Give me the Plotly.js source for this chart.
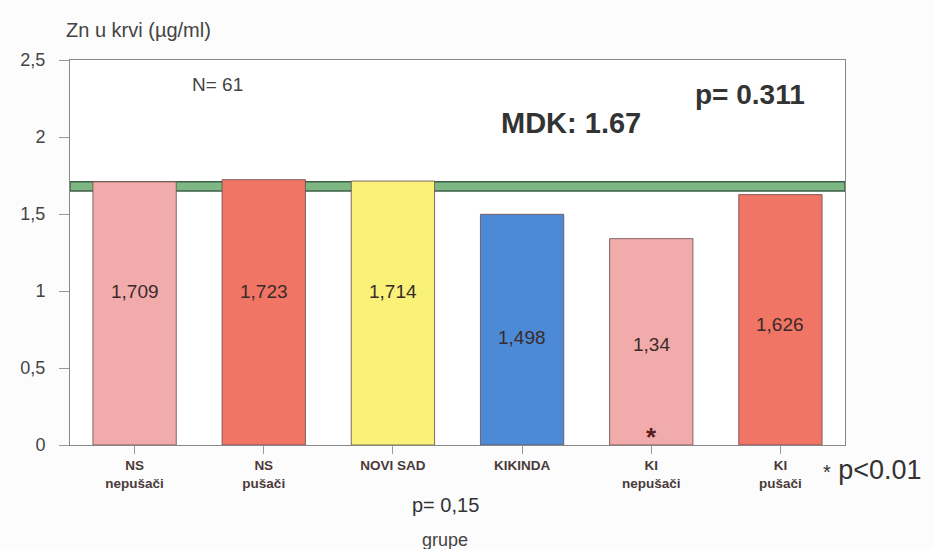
<!DOCTYPE html>
<html>
<head>
<meta charset="utf-8">
<script src="https://cdn.plot.ly/plotly-3.0.1.min.js"></script>
<style>html,body{margin:0;padding:0;background:#fdfcfc;}</style>
</head>
<body>
<div id="chart" style="width:933px;height:549px;"></div>
<script>
const categories = ["NS nepušači", "NS pušači", "NOVI SAD", "KIKINDA", "KI nepušači", "KI pušači"];
const tickLabels = ["<b>NS</b><br><b>nepušači</b>", "<b>NS</b><br><b>pušači</b>", "<b>NOVI SAD</b>", "<b>KIKINDA</b>", "<b>KI</b><br><b>nepušači</b>", "<b>KI</b><br><b>pušači</b>"];
const values = [1.709, 1.723, 1.714, 1.498, 1.34, 1.626];
const valueLabels = ["1,709", "1,723", "1,714", "1,498", "1,34", "1,626"];
const labelY = [1.0, 1.0, 1.0, 0.70, 0.65, 0.78];
const barColors = ["#f2abab", "#f07565", "#f9f178", "#4d8ad6", "#f2abab", "#f07565"];
const yTickVals = [0, 0.5, 1, 1.5, 2, 2.5];
const yTickText = ["0", "0,5", "1", "1,5", "2", "2,5"];
const mdkBand = [1.65, 1.71];
const starCategory = "KI nepušači";
const starY = 0.05;

const FONT = "Liberation Sans, Arial";
const L = 70, R = 88, T = 60, B = 104, W = 933, H = 549;
const pw = W - L - R, ph = H - T - B;
const px = x => (x - L) / pw;
const py = y => (H - B - y) / ph;

const trace = {
  type: "bar",
  x: categories,
  y: values,
  marker: {color: barColors, line: {color: "rgba(110,80,80,0.85)", width: 1}},
  width: 0.645,
  hoverinfo: "none"
};

const annotations = categories.map((c, i) => ({
  x: c, y: labelY[i], xref: "x", yref: "y", text: valueLabels[i], showarrow: false,
  xanchor: "center", yanchor: "middle",
  font: {family: FONT, size: 19, color: "#3a2a2a"}
}));
function note(x, y, text, size, color, xanchor) {
  annotations.push({x: px(x), y: py(y), xref: "paper", yref: "paper", text: text, showarrow: false,
    xanchor: xanchor || "center", yanchor: "middle", font: {family: FONT, size: size, color: color}});
}
annotations.push({x: starCategory, y: starY, xref: "x", yref: "y", text: "<b>*</b>", showarrow: false,
  xanchor: "center", yanchor: "middle", font: {family: FONT, size: 26, color: "#5a1e1e"}});
note(64, 30, "Zn u krvi (µg/ml)", 20, "#444", "left");
note(217, 84, "N= 61", 19, "#444");
note(571, 123, "<b>MDK: 1.67</b>", 29, "#333");
note(750, 94, "<b>p= 0.311</b>", 28, "#333");
note(821, 470, "<span style='font-size:20px'>*</span> p<0.01", 27, "#333", "left");
note(445, 505, "p= 0,15", 20, "#333");
note(445, 540, "grupe", 18, "#444");

const layout = {
  width: W, height: H,
  margin: {l: L, r: R, t: T, b: B},
  paper_bgcolor: "#fdfcfc",
  plot_bgcolor: "#ffffff",
  showlegend: false,
  bargap: 0.355,
  xaxis: {
    type: "category", tickvals: categories, ticktext: tickLabels,
    ticks: "outside", ticklen: 8, tickcolor: "#999",
    showline: true, linecolor: "#888", linewidth: 1, mirror: true,
    showgrid: false, zeroline: false,
    tickfont: {family: FONT, size: 13.5, color: "#4a3a3a"}
  },
  yaxis: {
    range: [0, 2.5], tickvals: yTickVals, ticktext: yTickText,
    ticks: "outside", ticklen: 10, tickcolor: "#999",
    ticklabelstandoff: 10,
    showline: true, linecolor: "#888", linewidth: 1, mirror: true,
    showgrid: false, zeroline: false,
    tickfont: {family: FONT, size: 18, color: "#444"}
  },
  shapes: [{
    type: "rect", xref: "paper", yref: "y", x0: 0, x1: 1, y0: mdkBand[0], y1: mdkBand[1],
    fillcolor: "#7db884", line: {color: "#3f5e48", width: 1.5}, layer: "below"
  }],
  annotations: annotations
};

Plotly.newPlot("chart", [trace], layout, {displayModeBar: false, staticPlot: true});
</script>
</body>
</html>
